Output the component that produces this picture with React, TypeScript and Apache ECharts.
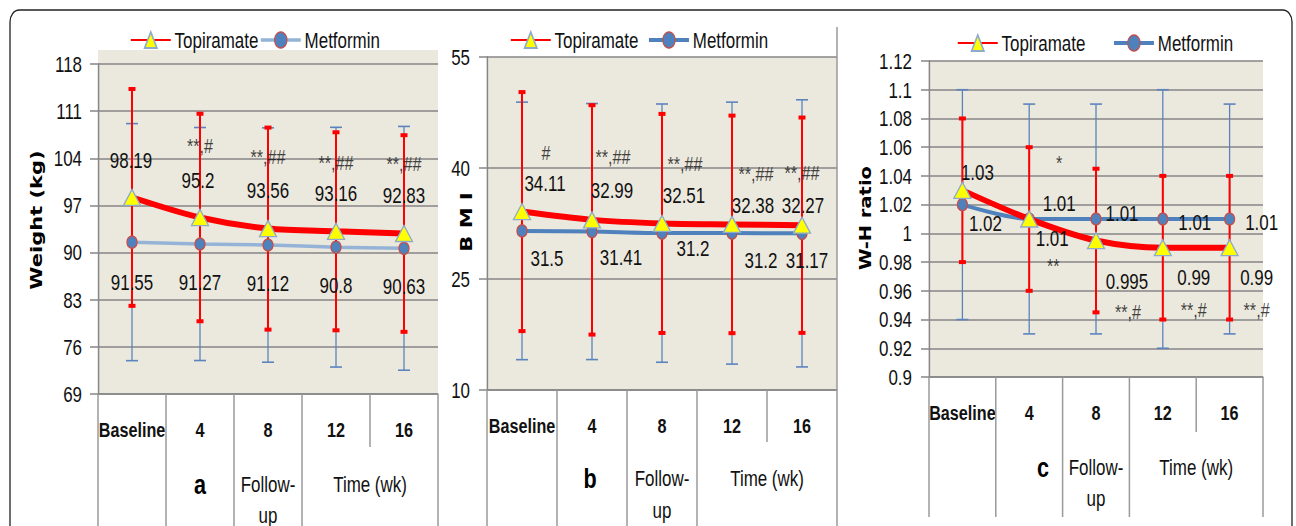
import React, { useEffect, useRef } from 'react';
import * as echarts from 'echarts';

// ---------- DATA ----------
const categories = ['Baseline', '4', '8', '12', '16'];

// Panel a: Weight (kg)  axis [min, max, interval]
const weightAxis = [69, 118, 7];
const weightTopi = [98.19, 95.2, 93.56, 93.16, 92.83];
const weightTopiSD = [16.1, 15.4, 15.0, 14.7, 14.6];
const weightTopiSig = ['', '**,#', '**,##', '**,##', '**,##'];
const weightMet = [91.55, 91.27, 91.12, 90.8, 90.63];
const weightMetSD = [17.6, 17.3, 17.4, 17.8, 18.1];
const weightMetSig = ['', '', '', '', ''];

// Panel b: BMI
const bmiAxis = [10, 55, 15];
const bmiTopi = [34.11, 32.99, 32.51, 32.38, 32.27];
const bmiTopiSD = [16.15, 15.5, 14.8, 14.7, 14.55];
const bmiTopiSig = ['#', '**,##', '**,##', '**,##', '**,##'];
const bmiMet = [31.5, 31.41, 31.2, 31.2, 31.17];
const bmiMetSD = [17.4, 17.3, 17.45, 17.7, 18.05];
const bmiMetSig = ['', '', '', '', ''];

// Panel c: W-H ratio
const whrAxis = [0.9, 1.12, 0.02];
const whrTopi = [1.03, 1.01, 0.995, 0.99, 0.99];
const whrTopiSD = [0.05, 0.05, 0.05, 0.05, 0.05];
const whrTopiSig = ['', '**', '**,#', '**,#', '**,#'];
const whrMet = [1.02, 1.01, 1.01, 1.01, 1.01];
const whrMetSD = [0.08, 0.08, 0.08, 0.09, 0.08];
const whrMetSig = ['', '*', '', '', ''];

const panelsData = [
  { axis: weightAxis, topi: weightTopi, topiSD: weightTopiSD, topiSig: weightTopiSig, met: weightMet, metSD: weightMetSD, metSig: weightMetSig },
  { axis: bmiAxis, topi: bmiTopi, topiSD: bmiTopiSD, topiSig: bmiTopiSig, met: bmiMet, metSD: bmiMetSD, metSig: bmiMetSig },
  { axis: whrAxis, topi: whrTopi, topiSD: whrTopiSD, topiSig: whrTopiSig, met: whrMet, metSD: whrMetSD, metSig: whrMetSig },
];

// ---------- STYLE / LAYOUT ----------
// The reference figure is horizontally squeezed; the chart is drawn wider and squeezed with CSS.
const SQ = 0.77;
const X = (x: number) => x / SQ;
const PAGE_W = 1296;
const PAGE_H = 526;

const SANS = '"Liberation Sans", Arial, sans-serif';
const TITLEFONT = '"DejaVu Sans", Verdana, sans-serif';
const RED = '#ff0000';
const BLUE = '#4f81bd';
const BEIGE = '#ebe8de';
const GRIDC = '#868686';
const SEPC = '#9a9a9a';
const TEXT = '#111111';

// all x values below are screen pixels (converted with X())
const layouts = [
  {
    grid: { left: 98, top: 64, width: 340, height: 330 },
    beigeTop: 50 as number | null,
    metColor: '#95b3d7', metWidth: 3.5,
    legend: { left: 130, top: 29, gap: 1 },
    title: { text: 'Weight (kg)', x: 36, y: 220, size: 21 },
    letter: { text: 'a', x: 200, y: 484 },
    row2Y: 484, upY: 515, shortBottom: 447, sepBottom: 526, sepTop: null as number | null,
    catMargin: 25, yMargin: 16,
    topiValOff: [[-1, -37], [-2, -37], [0, -38], [0, -38], [0, -38]],
    topiSigOff: [[0, -72], [0, -72], [0, -72], [0, -69], [0, -70]],
    metValOff: [[0, 40], [0, 38], [0, 38], [0, 38], [0, 38]],
    metSigOff: [[0, 0], [0, 0], [0, 0], [0, 0], [0, 0]],
  },
  {
    grid: { left: 487, top: 57, width: 350, height: 333 },
    beigeTop: null as number | null,
    metColor: BLUE, metWidth: 4,
    legend: { left: 510, top: 29, gap: 9 },
    title: { text: 'B M I', x: 466, y: 222, size: 21 },
    letter: { text: 'b', x: 590, y: 478 },
    row2Y: 478, upY: 510, shortBottom: 442, sepBottom: 526, sepTop: 27 as number | null,
    catMargin: 25, yMargin: 17,
    topiValOff: [[23, -28], [20, -30], [22, -28], [21, -19], [1, -20]],
    topiSigOff: [[24, -59], [21, -63], [23, -60], [24, -51], [0, -52]],
    metValOff: [[25, 27], [29, 26], [31, 15], [29, 27], [5, 27]],
    metSigOff: [[0, 0], [0, 0], [0, 0], [0, 0], [0, 0]],
  },
  {
    grid: { left: 929, top: 61, width: 334, height: 316 },
    beigeTop: null as number | null,
    metColor: BLUE, metWidth: 4,
    legend: { left: 957, top: 32, gap: 27 },
    title: { text: 'W-H ratio', x: 866, y: 218, size: 19.5 },
    letter: { text: 'c', x: 1043, y: 467 },
    row2Y: 467, upY: 498, shortBottom: 432, sepBottom: 517, sepTop: null as number | null,
    catMargin: 25, yMargin: 17,
    topiValOff: [[15, -18], [23, 19], [31, 41], [31, 29], [27, 29]],
    topiSigOff: [[0, 0], [24, 47], [32, 71], [31, 62], [27, 62]],
    metValOff: [[23, 19], [30, -16], [26, -6], [32, 3], [32, 3]],
    metSigOff: [[0, 0], [30, -56], [0, 0], [0, 0], [0, 0]],
  },
];

function redBar(params: any, api: any) {
  const i = api.value(0), m = api.value(1), sd = api.value(2);
  const top = api.coord([i, m + sd]);
  const bot = api.coord([i, m - sd]);
  const x = top[0];
  const cw = X(7);
  return {
    type: 'group',
    children: [
      { type: 'line', shape: { x1: x, y1: top[1], x2: x, y2: bot[1] }, style: { stroke: RED, lineWidth: X(2) } },
      { type: 'rect', shape: { x: x - cw / 2, y: top[1] - 2, width: cw, height: 4 }, style: { fill: RED } },
      { type: 'rect', shape: { x: x - cw / 2, y: bot[1] - 2, width: cw, height: 4 }, style: { fill: RED } },
    ],
  };
}

function blueBar(params: any, api: any) {
  const i = api.value(0), m = api.value(1), sd = api.value(2);
  const top = api.coord([i, m + sd]);
  const bot = api.coord([i, m - sd]);
  const x = top[0];
  const hw = X(6);
  return {
    type: 'group',
    children: [
      { type: 'line', shape: { x1: x, y1: top[1], x2: x, y2: bot[1] }, style: { stroke: '#5b84be', lineWidth: X(1.3) } },
      { type: 'line', shape: { x1: x - hw, y1: top[1], x2: x + hw, y2: top[1] }, style: { stroke: '#5b84be', lineWidth: 1.6 } },
      { type: 'line', shape: { x1: x - hw, y1: bot[1], x2: x + hw, y2: bot[1] }, style: { stroke: '#5b84be', lineWidth: 1.6 } },
    ],
  };
}

const offs = (o: number[]) => [X(o[0]), o[1]];

function buildOption() {
  const grid: any[] = [];
  const xAxis: any[] = [];
  const yAxis: any[] = [];
  const series: any[] = [];
  const legend: any[] = [];
  const graphic: any[] = [];

  graphic.push({
    type: 'rect', z: -10,
    shape: { x: X(10), y: 10, width: X(1282), height: 560, r: 12 },
    style: { fill: 'none', stroke: '#222', lineWidth: 1.7 },
  });

  panelsData.forEach((d, k) => {
    const L = layouts[k];
    const g = L.grid;
    grid.push({
      left: X(g.left), top: g.top, width: X(g.width), height: g.height,
      show: true, backgroundColor: BEIGE, borderWidth: 0,
      containLabel: false, outerBoundsMode: 'none',
    });
    xAxis.push({
      gridIndex: k, type: 'category', data: categories, boundaryGap: true,
      axisLine: { show: true, lineStyle: { color: GRIDC, width: 1.5 } },
      axisTick: { show: false },
      splitLine: { show: false },
      axisLabel: { margin: L.catMargin, fontFamily: SANS, fontSize: 21, fontWeight: 'bold', color: TEXT, interval: 0 },
    });
    yAxis.push({
      gridIndex: k, type: 'value', min: d.axis[0], max: d.axis[1], interval: d.axis[2],
      axisLine: { show: true, lineStyle: { color: GRIDC, width: X(1.5) } },
      axisTick: { show: true, inside: false, length: X(8), lineStyle: { color: GRIDC, width: 1.5 } },
      splitLine: { show: true, lineStyle: { color: GRIDC, width: 1.5 } },
      axisLabel: {
        margin: X(L.yMargin), fontFamily: SANS, fontSize: 22, color: TEXT,
        formatter: (v: number) => String(parseFloat(v.toFixed(3))),
      },
    });

    const labelBase = {
      show: true, position: 'inside', fontFamily: SANS, fontSize: 22, color: TEXT,
      textBorderWidth: 0,
    };

    series.push({
      type: 'custom', name: 'Metformin SD', xAxisIndex: k, yAxisIndex: k, z: 1, silent: true,
      renderItem: blueBar, encode: { x: 0, y: 1 },
      data: d.met.map((m, i) => [i, m, d.metSD[i]]),
    });
    series.push({
      type: 'custom', name: 'Topiramate SD', xAxisIndex: k, yAxisIndex: k, z: 2, silent: true,
      renderItem: redBar, encode: { x: 0, y: 1 },
      data: d.topi.map((m, i) => [i, m, d.topiSD[i]]),
    });
    series.push({
      type: 'line', name: 'Metformin', xAxisIndex: k, yAxisIndex: k, z: 3,
      smooth: 0.3, symbol: 'circle', symbolSize: [13, 12], showSymbol: true,
      lineStyle: { color: L.metColor, width: L.metWidth },
      itemStyle: { color: BLUE, borderColor: '#c0504d', borderWidth: 1.5 },
      label: { ...labelBase, formatter: (p: any) => String(p.value) },
      data: d.met.map((v, i) => ({ value: v, label: { offset: offs(L.metValOff[i]) } })),
    });
    series.push({
      type: 'line', name: 'Topiramate', xAxisIndex: k, yAxisIndex: k, z: 4,
      smooth: 0.3, symbol: 'triangle', symbolSize: [X(17), 16], showSymbol: true,
      lineStyle: { color: RED, width: 6 },
      itemStyle: { color: '#ffff00', borderColor: '#8eaacc', borderWidth: 1.5 },
      label: { ...labelBase, formatter: (p: any) => String(p.value) },
      data: d.topi.map((v, i) => ({ value: v, label: { offset: offs(L.topiValOff[i]) } })),
    });
    series.push({
      type: 'scatter', name: 'Topiramate sig', xAxisIndex: k, yAxisIndex: k, z: 5, silent: true,
      symbolSize: 2, itemStyle: { color: 'rgba(0,0,0,0)' },
      label: { ...labelBase, fontSize: 21 },
      data: d.topi.map((v, i) => ({
        value: [i, v],
        label: { show: d.topiSig[i] !== '', formatter: d.topiSig[i] || ' ', offset: offs(L.topiSigOff[i]) },
      })),
    });
    series.push({
      type: 'scatter', name: 'Metformin sig', xAxisIndex: k, yAxisIndex: k, z: 5, silent: true,
      symbolSize: 2, itemStyle: { color: 'rgba(0,0,0,0)' },
      label: { ...labelBase, fontSize: 21 },
      data: d.met.map((v, i) => ({
        value: [i, v],
        label: { show: d.metSig[i] !== '', formatter: d.metSig[i] || ' ', offset: offs(L.metSigOff[i]) },
      })),
    });

    legend.push({
      left: X(L.legend.left), top: L.legend.top, padding: 0, itemGap: X(L.legend.gap),
      itemWidth: X(40), itemHeight: 20, selectedMode: false,
      textStyle: { fontFamily: SANS, fontSize: 22, color: TEXT },
      data: [
        { name: 'Topiramate' },
        {
          name: 'Metformin',
          itemStyle: { color: BLUE, borderColor: '#c0504d', borderWidth: 1.5 },
          lineStyle: { color: L.metColor, width: L.metWidth },
        },
      ],
    });

    if (L.beigeTop != null) {
      graphic.push({
        type: 'rect', z: -5,
        shape: { x: X(g.left), y: L.beigeTop, width: X(g.width), height: g.top - L.beigeTop },
        style: { fill: BEIGE },
      });
    }
    // category table separators
    const bottom = g.top + g.height;
    const step = g.width / categories.length;
    for (let i = 0; i <= categories.length; i++) {
      const x = X(g.left + i * step);
      const y2 = i === categories.length - 1 ? L.shortBottom : L.sepBottom;
      const y1 = i === categories.length && L.sepTop != null ? L.sepTop : bottom;
      graphic.push({
        type: 'line', z: 1,
        shape: { x1: x, y1, x2: x, y2 },
        style: { stroke: SEPC, lineWidth: X(1.5) },
      });
    }
    const txt = (text: string, x: number, y: number, extra: any = {}) => ({
      type: 'text', x: X(x), y, z: 10,
      style: {
        text, fill: TEXT, align: 'center', verticalAlign: 'middle',
        fontFamily: SANS, fontSize: 22, ...extra,
      },
    });
    graphic.push(txt(L.letter.text, L.letter.x, L.letter.y, { fontWeight: 'bold', fontSize: 28, fill: '#000' }));
    graphic.push(txt('Follow-', g.left + 2.5 * step, L.row2Y));
    graphic.push(txt('up', g.left + 2.5 * step, L.upY));
    graphic.push(txt('Time (wk)', g.left + 4 * step, L.row2Y));
    graphic.push({
      type: 'text', x: X(L.title.x), y: L.title.y, rotation: Math.PI / 2, z: 10,
      style: {
        text: L.title.text, fill: '#000', align: 'center', verticalAlign: 'middle',
        fontFamily: TITLEFONT, fontWeight: 'bold', fontSize: L.title.size,
      },
    });
  });

  return {
    animation: false,
    backgroundColor: '#ffffff',
    grid, xAxis, yAxis, series, legend, graphic,
  };
}

export default function App() {
  const ref = useRef<HTMLDivElement>(null);
  useEffect(() => {
    const chart = echarts.init(ref.current as HTMLDivElement, null, { renderer: 'svg' });
    chart.setOption(buildOption() as any);
    return () => chart.dispose();
  }, []);
  return (
    <div
      ref={ref}
      style={{
        position: 'fixed', left: 0, top: 0,
        width: PAGE_W / SQ, height: PAGE_H,
        transform: `scaleX(${SQ})`, transformOrigin: '0 0',
        background: '#fff',
      }}
    />
  );
}
